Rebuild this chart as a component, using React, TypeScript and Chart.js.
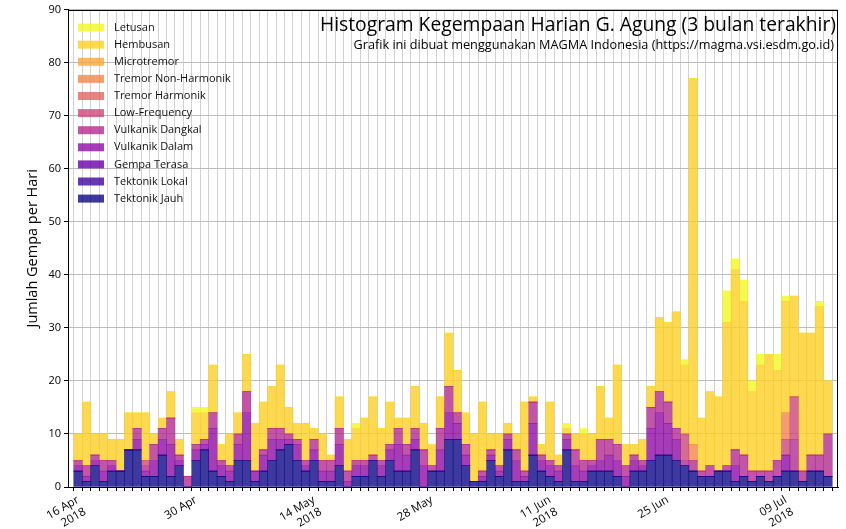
import React, { useEffect, useRef } from 'react';
import { Chart, registerables } from 'chart.js';

Chart.register(...registerables);

const FONT = '"Open Sans", sans-serif';

// one bar per day, 16 Apr 2018 .. 14 Jul 2018
const dayIndex = Array.from({ length: 90 }, (_, i) => i);
const tickDays = [0, 14, 28, 42, 56, 70, 84];
const tickLabels = ['16 Apr\n2018', '30 Apr', '14 May\n2018', '28 May', '11 Jun\n2018', '25 Jun', '09 Jul\n2018'];

const seriesNames = [
    'Tektonik Jauh', 'Tektonik Lokal', 'Gempa Terasa', 'Vulkanik Dalam', 'Vulkanik Dangkal',
    'Low-Frequency', 'Tremor Harmonik', 'Tremor Non-Harmonik', 'Microtremor', 'Hembusan', 'Letusan',
];
// plasma colormap, alpha 0.8
const seriesColors = [
    'rgba(13,8,135,0.8)', 'rgba(65,4,157,0.8)', 'rgba(106,0,168,0.8)', 'rgba(143,13,164,0.8)',
    'rgba(177,42,144,0.8)', 'rgba(204,71,120,0.8)', 'rgba(225,100,98,0.8)', 'rgba(242,132,75,0.8)',
    'rgba(252,166,54,0.8)', 'rgba(252,206,37,0.8)', 'rgba(240,249,33,0.8)',
];

const tektonikJauh = [
    3, 1, 4, 1, 3, 3, 7, 7, 2, 2, 6, 2, 4, 0,
    5, 7, 3, 2, 1, 5, 5, 1, 3, 5, 7, 8, 5, 3,
    5, 1, 1, 4, 0, 2, 2, 5, 2, 5, 3, 3, 7, 0,
    3, 3, 9, 9, 4, 1, 1, 5, 2, 7, 1, 1, 6, 3,
    2, 1, 7, 1, 1, 3, 3, 3, 2, 0, 3, 3, 5, 6,
    6, 5, 4, 3, 2, 2, 3, 3, 1, 2, 1, 2, 1, 2,
    3, 3, 1, 3, 3, 2,
];
const tektonikLokal = [
    0, 0, 0, 0, 0, 0, 0, 0, 0, 0, 0, 0, 0, 0,
    0, 0, 0, 0, 0, 0, 0, 0, 0, 0, 0, 0, 0, 0,
    0, 0, 0, 0, 0, 0, 0, 0, 0, 0, 0, 0, 0, 0,
    0, 0, 0, 0, 0, 0, 0, 0, 0, 0, 0, 0, 0, 0,
    0, 0, 0, 0, 0, 0, 0, 0, 0, 0, 0, 0, 0, 0,
    0, 0, 0, 0, 0, 0, 0, 0, 0, 0, 0, 0, 0, 0,
    0, 0, 0, 0, 0, 0,
];
const gempaTerasa = [
    0, 0, 0, 0, 0, 0, 0, 0, 0, 0, 0, 0, 0, 0,
    0, 0, 0, 0, 0, 0, 0, 0, 0, 0, 0, 0, 0, 0,
    0, 0, 0, 0, 0, 0, 0, 0, 0, 0, 0, 0, 0, 0,
    0, 0, 0, 0, 0, 0, 0, 0, 0, 0, 0, 0, 0, 0,
    0, 0, 0, 0, 0, 0, 0, 0, 0, 0, 0, 0, 0, 0,
    0, 0, 0, 0, 0, 0, 0, 0, 0, 0, 0, 0, 0, 0,
    0, 0, 0, 0, 0, 0,
];
const vulkanikDalam = [
    1, 1, 1, 2, 1, 0, 0, 2, 1, 3, 3, 6, 1, 0,
    2, 1, 8, 2, 2, 3, 9, 2, 3, 4, 2, 1, 3, 1,
    2, 2, 2, 4, 1, 2, 2, 0, 2, 2, 5, 3, 2, 4,
    0, 4, 5, 3, 2, 0, 1, 1, 1, 2, 4, 1, 6, 2,
    2, 2, 2, 3, 2, 1, 2, 3, 3, 2, 2, 1, 6, 8,
    6, 4, 0, 0, 0, 0, 0, 0, 3, 0, 0, 0, 0, 0,
    3, 0, 0, 0, 0, 0,
];
const vulkanikDangkal = [
    1, 2, 1, 2, 1, 0, 0, 2, 1, 3, 2, 5, 1, 2,
    1, 1, 3, 1, 1, 2, 4, 0, 1, 2, 2, 1, 1, 1,
    2, 2, 2, 3, 2, 1, 1, 1, 1, 1, 3, 2, 2, 3,
    1, 4, 5, 2, 2, 0, 1, 1, 1, 1, 2, 1, 4, 1,
    1, 1, 1, 3, 2, 1, 4, 3, 3, 2, 1, 1, 4, 4,
    4, 2, 1, 2, 1, 2, 0, 1, 3, 4, 2, 1, 2, 3,
    0, 6, 2, 3, 3, 8,
];
const lowFrequency = [
    0, 0, 0, 0, 0, 0, 0, 0, 1, 0, 0, 0, 0, 0,
    0, 0, 0, 0, 0, 0, 0, 0, 0, 0, 0, 0, 0, 0,
    0, 0, 0, 0, 0, 0, 0, 0, 0, 0, 0, 0, 0, 0,
    0, 0, 0, 0, 0, 0, 0, 0, 0, 0, 0, 0, 0, 0,
    0, 0, 0, 0, 0, 0, 0, 0, 0, 0, 0, 0, 0, 0,
    0, 0, 5, 0, 0, 0, 0, 0, 0, 0, 0, 0, 0, 0,
    3, 8, 0, 0, 0, 0,
];
const tremorHarmonik = [
    0, 0, 0, 0, 0, 0, 0, 0, 0, 0, 0, 0, 0, 0,
    0, 0, 0, 0, 0, 0, 0, 0, 0, 0, 0, 0, 0, 0,
    0, 0, 0, 0, 0, 0, 0, 0, 0, 0, 0, 0, 0, 0,
    0, 0, 0, 0, 0, 0, 0, 0, 0, 0, 0, 0, 0, 0,
    0, 0, 0, 0, 0, 0, 0, 0, 0, 0, 0, 0, 0, 0,
    0, 0, 0, 0, 0, 0, 0, 0, 0, 0, 0, 0, 0, 0,
    0, 0, 0, 0, 0, 0,
];
const tremorNonHarmonik = [
    0, 0, 0, 0, 0, 0, 0, 0, 0, 0, 0, 0, 0, 0,
    0, 0, 0, 0, 0, 0, 0, 0, 0, 0, 0, 0, 0, 0,
    0, 0, 0, 0, 0, 0, 0, 0, 0, 0, 0, 0, 0, 0,
    0, 0, 0, 0, 0, 0, 0, 0, 0, 0, 0, 0, 0, 0,
    0, 0, 0, 0, 0, 0, 0, 0, 0, 0, 0, 0, 0, 0,
    0, 0, 0, 3, 0, 0, 0, 0, 0, 0, 0, 0, 0, 0,
    5, 0, 0, 0, 0, 0,
];
const microtremor = [
    0, 0, 0, 0, 0, 0, 0, 0, 0, 0, 0, 0, 0, 0,
    0, 0, 0, 0, 0, 0, 0, 0, 0, 0, 0, 0, 0, 0,
    0, 0, 0, 0, 0, 0, 0, 0, 0, 0, 0, 0, 0, 0,
    0, 0, 0, 0, 0, 0, 0, 0, 0, 0, 0, 0, 0, 0,
    0, 0, 0, 0, 0, 0, 0, 0, 0, 0, 0, 0, 0, 0,
    0, 0, 0, 0, 0, 0, 0, 0, 0, 0, 0, 0, 0, 0,
    0, 0, 0, 0, 0, 0,
];
const hembusan = [
    5, 12, 4, 5, 4, 6, 7, 3, 9, 2, 2, 5, 3, 0,
    6, 5, 9, 3, 6, 4, 7, 9, 9, 8, 12, 5, 3, 7,
    2, 5, 1, 6, 6, 6, 8, 11, 6, 8, 2, 5, 8, 5,
    4, 6, 10, 8, 6, 9, 13, 3, 6, 2, 3, 13, 1, 2,
    11, 2, 1, 3, 5, 5, 10, 4, 15, 4, 2, 4, 4, 14,
    15, 22, 13, 69, 10, 14, 14, 27, 34, 29, 15, 20, 22, 17,
    21, 19, 26, 23, 28, 10,
];
const letusan = [
    0, 0, 0, 0, 0, 0, 0, 0, 0, 0, 0, 0, 0, 0,
    1, 1, 0, 0, 0, 0, 0, 0, 0, 0, 0, 0, 0, 0,
    0, 0, 0, 0, 0, 1, 0, 0, 0, 0, 0, 0, 0, 0,
    0, 0, 0, 0, 0, 0, 0, 0, 0, 0, 0, 0, 0, 0,
    0, 0, 1, 0, 1, 0, 0, 0, 0, 0, 0, 0, 0, 0,
    0, 0, 1, 0, 0, 0, 0, 6, 2, 4, 2, 2, 0, 3,
    1, 0, 0, 0, 1, 0,
];

const seriesValues = [
    tektonikJauh, tektonikLokal, gempaTerasa, vulkanikDalam, vulkanikDangkal,
    lowFrequency, tremorHarmonik, tremorNonHarmonik, microtremor, hembusan, letusan,
];

const titleText = 'Histogram Kegempaan Harian G. Agung (3 bulan terakhir)';
const subtitleText = 'Grafik ini dibuat menggunakan MAGMA Indonesia (https://magma.vsi.esdm.go.id)';

// frame, in-plot legend and title text (matplotlib style)
const overlayPlugin = {
    id: 'overlay',
    afterDraw(chart: Chart) {
        const { ctx, chartArea } = chart;
        const { left, right, top, bottom } = chartArea;
        ctx.save();
        ctx.strokeStyle = '#000';
        ctx.lineWidth = 1;
        ctx.strokeRect(Math.round(left) + 0.5, Math.round(top) + 0.5, Math.round(right - left) - 1, Math.round(bottom - top));

        ctx.fillStyle = '#000';
        ctx.textAlign = 'right';
        ctx.textBaseline = 'alphabetic';
        ctx.font = `19.3px ${FONT}`;
        ctx.fillText(titleText, right - 2, top + 21.5);
        ctx.font = `12.7px ${FONT}`;
        ctx.fillText(subtitleText, right - 4, top + 39);

        ctx.textAlign = 'left';
        ctx.textBaseline = 'middle';
        ctx.font = `11px ${FONT}`;
        const items = chart.data.datasets.slice().reverse();
        items.forEach((ds, k) => {
            const y = top + 18 + k * 17.1;
            ctx.fillStyle = ds.backgroundColor as string;
            ctx.fillRect(left + 10, y - 4, 26, 8);
            ctx.fillStyle = '#111';
            ctx.fillText(ds.label as string, left + 46, y);
        });
        ctx.restore();
    },
};

function GempaHistogram() {
    const chartRef = useRef<HTMLCanvasElement | null>(null);
    const chartInstance = useRef<Chart | null>(null);

    useEffect(() => {
        if (!chartRef.current) return;
        if (chartInstance.current) chartInstance.current.destroy();

        const datasets = seriesNames.map((name, i) => ({
            label: name,
            data: seriesValues[i],
            backgroundColor: seriesColors[i],
            borderWidth: 0,
            barPercentage: 1,
            categoryPercentage: 1,
        }));

        chartInstance.current = new Chart(chartRef.current, {
            type: 'bar',
            data: { labels: dayIndex, datasets },
            plugins: [overlayPlugin],
            options: {
                animation: false,
                responsive: true,
                maintainAspectRatio: false,
                layout: { padding: { left: 0, right: 8, top: 8, bottom: 0 } },
                plugins: {
                    legend: { display: false },
                    tooltip: { enabled: false },
                },
                scales: {
                    x: {
                        type: 'linear',
                        stacked: true,
                        offset: false,
                        min: -1.2,
                        max: 90.2,
                        afterBuildTicks: (scale: any) => {
                            scale.ticks = dayIndex.map(v => ({ value: v }));
                        },
                        afterFit: (scale: any) => {
                            scale.height = 42;
                        },
                        grid: { color: '#d2d2d2', lineWidth: 1, tickLength: 4, tickColor: '#000' },
                        border: { color: '#000', width: 1 },
                        ticks: {
                            autoSkip: false,
                            minRotation: 30,
                            maxRotation: 30,
                            padding: 2,
                            color: '#000',
                            font: { family: FONT, size: 11.5 },
                            callback: (value: any) => {
                                const k = tickDays.indexOf(Number(value));
                                return k >= 0 ? tickLabels[k].split('\n') : '';
                            },
                        },
                    },
                    y: {
                        stacked: true,
                        min: 0,
                        max: 90,
                        afterFit: (scale: any) => {
                            scale.width = 68;
                        },
                        grid: { color: '#bcbcbc', lineWidth: 1, tickLength: 4, tickColor: '#000' },
                        border: { color: '#000', width: 1 },
                        ticks: {
                            stepSize: 10,
                            padding: 3,
                            color: '#000',
                            font: { family: FONT, size: 11 },
                        },
                        title: {
                            display: true,
                            text: 'Jumlah Gempa per Hari',
                            color: '#000',
                            font: { family: FONT, size: 14.5 },
                            padding: { top: 24, bottom: 0 },
                        },
                    },
                },
            },
        });

        return () => {
            if (chartInstance.current) {
                chartInstance.current.destroy();
                chartInstance.current = null;
            }
        };
    }, []);

    return (
        <div style={{ position: 'fixed', left: 0, top: 0, width: 846, height: 529, background: '#fff' }}>
            <canvas ref={chartRef} />
        </div>
    );
}

export default function App() {
    return <GempaHistogram />;
}
